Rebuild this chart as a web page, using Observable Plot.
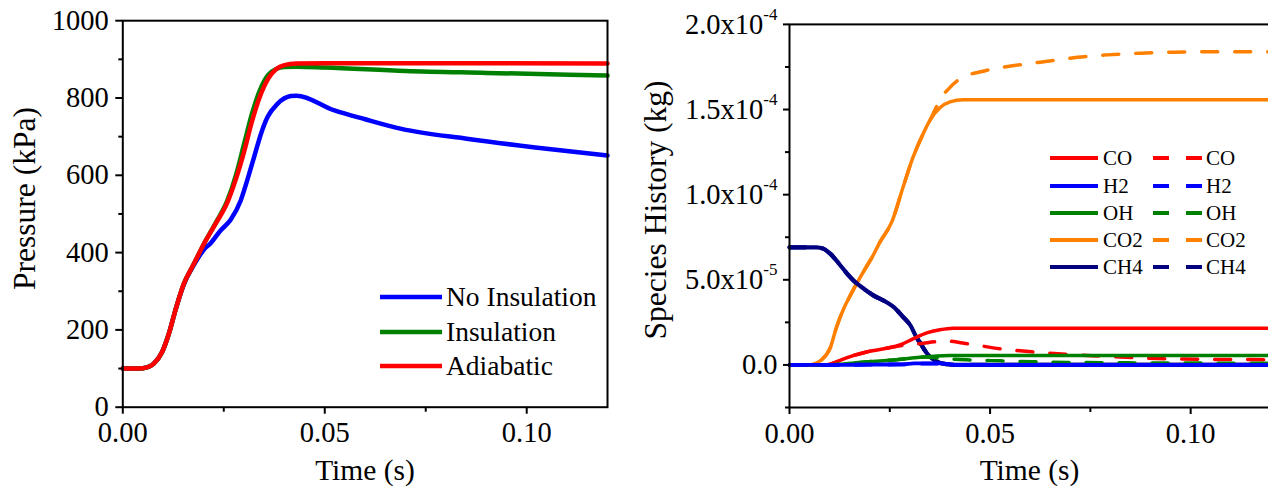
<!DOCTYPE html>
<html><head><meta charset="utf-8">
<script src="https://cdn.jsdelivr.net/npm/d3@7"></script>
<script src="https://cdn.jsdelivr.net/npm/@observablehq/plot@0.6"></script>
<style>
html,body{margin:0;padding:0;background:#fff;overflow:hidden}
#wrap{position:relative;width:1268px;height:491px;overflow:hidden;background:#fff;font-family:Liberation Serif, serif}
#left,#right{position:absolute;top:0}
#left{left:0;width:630px}
#right{left:630px;width:645px}
#overlay{position:absolute;left:0;top:0;pointer-events:none}
#wrap text, #wrap tspan{font-family:Liberation Serif, serif !important}
</style></head><body>
<div id="wrap"><div id="left"></div><div id="right"></div><svg id="overlay" width="1268" height="491"></svg></div>
<script>
const FONT = "Liberation Serif, serif";

// ---------- Left panel: pressure (kPa) vs time (s) ----------
const tAdiabatic = [0, 0.004, 0.006, 0.0076, 0.0097, 0.0114, 0.013, 0.0151, 0.0176, 0.0201, 0.023, 0.0259, 0.028, 0.030, 0.032, 0.034, 0.036, 0.038, 0.040, 0.043, 0.05, 0.08, 0.12];
const pAdiabatic = [100, 100, 103, 112, 142, 190, 250, 319, 371, 423, 475, 530, 590, 660, 740, 805, 850, 875, 885, 889, 890, 890, 889];
const tInsulation = [0, 0.004, 0.006, 0.0076, 0.0097, 0.0114, 0.013, 0.0151, 0.0176, 0.0201, 0.023, 0.0259, 0.028, 0.030, 0.032, 0.034, 0.036, 0.038, 0.040, 0.043, 0.05, 0.07, 0.09, 0.12];
const pInsulation = [100, 100, 103, 112, 142, 190, 250, 319, 371, 423, 477, 535, 600, 680, 760, 822, 860, 875, 880, 881, 879, 870, 865, 858];
const tNoInsulation = [0, 0.004, 0.006, 0.0076, 0.0097, 0.0114, 0.013, 0.0151, 0.0176, 0.0201, 0.0218, 0.0242, 0.0267, 0.0292, 0.0308, 0.0325, 0.0342, 0.0358, 0.0383, 0.0416, 0.043, 0.0524, 0.06, 0.069, 0.0856, 0.1021, 0.12];
const pNoInsulation = [100, 100, 103, 112, 142, 190, 250, 317, 368, 408, 425, 457, 485, 535, 587, 647, 707, 750, 785, 805, 806, 768, 745, 720, 694, 672, 651];

const leftNames = ["No Insulation", "Insulation", "Adiabatic"];
const leftColors = ["#0000ff", "#008000", "#ff0000"];
const leftX = [tNoInsulation, tInsulation, tAdiabatic];
const leftY = [pNoInsulation, pInsulation, pAdiabatic];

const leftXTicks = [0, 0.05, 0.10];
const leftXTickLabels = ["0.00", "0.05", "0.10"];
const leftXMinor = [0.025, 0.075];
const leftYTicks = [0, 200, 400, 600, 800, 1000];
const leftYTickLabels = ["0", "200", "400", "600", "800", "1000"];
const leftYMinor = [100, 300, 500, 700, 900];

// ---------- Right panel: species history (units of 1e-5 kg) vs time (s) ----------
const UNIT = 1e-5;
const tCO2 = [0, 0.005, 0.0061, 0.008, 0.0102, 0.0117, 0.0135, 0.0152, 0.0168, 0.019, 0.021, 0.0225, 0.0255, 0.0283, 0.0308, 0.0333, 0.035, 0.0375, 0.040, 0.0433, 0.12];
const vCO2 = [0, 0, 0.06, 0.3, 1.03, 2.2, 3.3, 4.1, 4.8, 5.7, 6.5, 7.2, 8.4, 10.44, 12.2, 13.57, 14.36, 15.1, 15.45, 15.57, 15.57];
const tCO2b = [0, 0.005, 0.0061, 0.008, 0.0102, 0.0117, 0.0135, 0.0152, 0.0168, 0.019, 0.021, 0.0225, 0.0255, 0.0283, 0.0308, 0.0333, 0.035, 0.0363, 0.0378, 0.0396, 0.0425, 0.049, 0.0575, 0.0658, 0.0717, 0.0792, 0.0875, 0.0958, 0.104, 0.12];
const vCO2b = [0, 0, 0.06, 0.3, 1.03, 2.2, 3.3, 4.1, 4.8, 5.7, 6.5, 7.2, 8.4, 10.44, 12.2, 13.57, 14.36, 15.0, 15.7, 16.2, 16.8, 17.29, 17.63, 17.88, 18.07, 18.21, 18.31, 18.37, 18.39, 18.4];
const tCO = [0, 0.0092, 0.0105, 0.0142, 0.0192, 0.0242, 0.0275, 0.0308, 0.0342, 0.0375, 0.0408, 0.045, 0.12];
const vCO = [0, 0, 0.07, 0.42, 0.76, 0.98, 1.17, 1.53, 1.88, 2.07, 2.16, 2.16, 2.16];
const tCOb = [0, 0.0092, 0.0105, 0.0142, 0.0192, 0.0242, 0.0275, 0.030, 0.0325, 0.0367, 0.0392, 0.0442, 0.0525, 0.0608, 0.0692, 0.0775, 0.0875, 0.104, 0.12];
const vCOb = [0, 0, 0.07, 0.42, 0.76, 0.98, 1.12, 1.2, 1.25, 1.37, 1.4, 1.25, 0.95, 0.76, 0.62, 0.52, 0.41, 0.33, 0.31];
const tOH = [0, 0.009, 0.0175, 0.0267, 0.0325, 0.0367, 0.040, 0.12];
const vOH = [0, 0, 0.15, 0.31, 0.45, 0.53, 0.55, 0.55];
const tOHb = [0, 0.009, 0.0175, 0.0267, 0.0325, 0.034, 0.037, 0.0442, 0.0525, 0.0608, 0.0692, 0.0792, 0.10, 0.12];
const vOHb = [0, 0, 0.15, 0.31, 0.45, 0.47, 0.4, 0.3, 0.24, 0.19, 0.15, 0.13, 0.11, 0.1];
const tH2 = [0, 0.012, 0.02, 0.0283, 0.031, 0.0375, 0.040, 0.042, 0.12];
const vH2 = [0, 0, 0.02, 0.03, 0.09, 0.09, 0.03, 0, 0];
const tH2b = [0, 0.012, 0.02, 0.0283, 0.031, 0.0375, 0.040, 0.042, 0.12];
const vH2b = [0, 0, 0.02, 0.03, 0.08, 0.08, 0.03, 0, 0];
const tCH4 = [0, 0.0067, 0.0085, 0.0102, 0.0125, 0.0144, 0.016, 0.0177, 0.0208, 0.0242, 0.026, 0.028, 0.0302, 0.0317, 0.0327, 0.0342, 0.0355, 0.0375, 0.0393, 0.042, 0.12];
const vCH4 = [6.91, 6.91, 6.82, 6.52, 5.9, 5.35, 4.95, 4.62, 4.1, 3.68, 3.39, 2.9, 2.3, 1.6, 1.25, 0.7, 0.38, 0.12, 0.04, 0, 0];
const tCH4b = tCH4.slice();
const vCH4b = vCH4.slice();

const speciesNames = ["CO", "H2", "OH", "CO2", "CH4"];
const speciesColors = ["#ff0000", "#0000ff", "#008000", "#ff8000", "#000080"];

const rightXTicks = [0, 0.05, 0.10];
const rightXTickLabels = ["0.00", "0.05", "0.10"];
const rightXMinor = [0.025, 0.075];
const rightYTicks = [0, 5e-5, 1e-4, 1.5e-4, 2e-4];
const rightYTickLabels = ["0.0", "5.0x10^-5", "1.0x10^-4", "1.5x10^-4", "2.0x10^-4"];
const rightYMinor = [-2.5e-5, 2.5e-5, 7.5e-5, 1.25e-4, 1.75e-4];

// ---------- helpers ----------
const zip = (ts, vs, k = 1) => ts.map((t, i) => ({t, v: vs[i] * k}));
const lookup = (vals, labels) => d => { const i = vals.findIndex(v => Math.abs(v - d) < 1e-12); return i < 0 ? "" : labels[i]; };
const txt = {fontFamily: FONT, fontSize: 28.5};

// ---------- Left plot ----------
const leftLines = leftNames.map((n, i) => Plot.line(zip(leftX[i], leftY[i]), {
  x: "t", y: "v", stroke: leftColors[i], strokeWidth: 4.5, curve: "monotone-x"
}));

const leftPlot = Plot.plot({
  width: 630, height: 491,
  marginLeft: 122.3, marginRight: 23, marginTop: 20.2, marginBottom: 84.3,
  x: {domain: [0, 0.12]},
  y: {domain: [0, 1000]},
  style: {fontFamily: FONT, fontSize: "28.5px", color: "black", background: "white", maxWidth: "none", overflow: "visible"},
  marks: [
    ...leftLines,
    Plot.frame({stroke: "black", strokeWidth: 2}),
    Plot.axisX({ticks: leftXTicks, tickFormat: lookup(leftXTicks, leftXTickLabels), tickSize: 7, tickPadding: 8, strokeWidth: 2, ...txt, label: null}),
    Plot.axisX({ticks: leftXMinor, tickFormat: () => "", tickSize: 5, strokeWidth: 2, label: null}),
    Plot.axisY({ticks: leftYTicks, tickFormat: lookup(leftYTicks, leftYTickLabels), tickSize: 7, tickPadding: 7, strokeWidth: 2, ...txt, label: null}),
    Plot.axisY({ticks: leftYMinor, tickFormat: () => "", tickSize: 4, strokeWidth: 2, label: null})
  ]
});
document.getElementById("left").append(leftPlot);

// ---------- Right plot ----------
const rightSeries = [
  {t: tCO2, v: vCO2, c: 3, dash: null, w: 3.5},
  {t: tCO2b, v: vCO2b, c: 3, dash: "16,17", w: 3.5},
  {t: tCH4b, v: vCH4b, c: 4, dash: "16,17", w: 4.2},
  {t: tCH4, v: vCH4, c: 4, dash: null, w: 4.2},
  {t: tCO, v: vCO, c: 0, dash: null, w: 3.5},
  {t: tCOb, v: vCOb, c: 0, dash: "16,17", w: 3.5},
  {t: tOH, v: vOH, c: 2, dash: null, w: 3.5},
  {t: tOHb, v: vOHb, c: 2, dash: "16,17", w: 3.5},
  {t: tH2b, v: vH2b, c: 1, dash: "16,17", w: 3.8},
  {t: tH2, v: vH2, c: 1, dash: null, w: 3.8}
];
const rightLines = rightSeries.map(s => Plot.line(zip(s.t, s.v, UNIT), {
  x: "t", y: "v", stroke: speciesColors[s.c], strokeWidth: s.w,
  strokeDasharray: s.dash || undefined, curve: "monotone-x"
}));

const rightPlot = Plot.plot({
  width: 645, height: 491,
  marginLeft: 159, marginRight: 4.6, marginTop: 23.9, marginBottom: 84,
  x: {domain: [0, 0.12]},
  y: {domain: [-2.5e-5, 2.0e-4]},
  style: {fontFamily: FONT, fontSize: "28.5px", color: "black", background: "white", maxWidth: "none", overflow: "visible"},
  marks: [
    ...rightLines,
    Plot.frame({stroke: "black", strokeWidth: 2}),
    Plot.axisX({ticks: rightXTicks, tickFormat: lookup(rightXTicks, rightXTickLabels), tickSize: 7, tickPadding: 8, strokeWidth: 2, ...txt, label: null}),
    Plot.axisX({ticks: rightXMinor, tickFormat: () => "", tickSize: 5, strokeWidth: 2, label: null}),
    Plot.axisY({ticks: rightYTicks, tickFormat: lookup(rightYTicks, rightYTickLabels), tickSize: 6, tickPadding: 6, strokeWidth: 2, ...txt, label: null}),
    Plot.axisY({ticks: rightYMinor, tickFormat: () => "", tickSize: 4, strokeWidth: 2, label: null})
  ]
});
// superscript exponents in tick labels
const NS = "http://www.w3.org/2000/svg";
rightPlot.querySelectorAll("text").forEach(t => {
  const s = t.textContent;
  if (s.includes("^")) {
    const [base, exp] = s.split("^");
    t.textContent = "";
    const a = document.createElementNS(NS, "tspan"); a.textContent = base;
    const b = document.createElementNS(NS, "tspan"); b.textContent = exp;
    b.setAttribute("dy", "-14"); b.setAttribute("font-size", "17");
    t.append(a, b);
  }
});
document.getElementById("right").append(rightPlot);

// ---------- Titles & legends (overlay) ----------
const ov = d3.select("#overlay").attr("fill", "black");
const addText = (x, y, s, size, extra) => {
  const t = ov.append("text").attr("x", x).attr("y", y).attr("font-size", size)
    .attr("font-family", FONT).style("font-family", FONT).text(s);
  if (extra) extra(t);
  return t;
};
const titles = [
  {text: "Pressure (kPa)", x: 35, y: 198.5, rot: -90, size: 31.5},
  {text: "Time (s)", x: 365, y: 480, rot: 0, size: 29.5},
  {text: "Species History (kg)", x: 665.5, y: 210, rot: -90, size: 31.5},
  {text: "Time (s)", x: 1029.5, y: 480, rot: 0, size: 29.5}
];
titles.forEach(d => addText(0, 0, d.text, d.size, t => t.attr("transform", `translate(${d.x},${d.y}) rotate(${d.rot})`).attr("text-anchor", "middle")));

// left legend
const leftRows = [297, 332, 366];
leftNames.forEach((n, i) => {
  ov.append("line").attr("x1", 380).attr("x2", 442).attr("y1", leftRows[i]).attr("y2", leftRows[i])
    .attr("stroke", leftColors[i]).attr("stroke-width", 4.5);
  addText(446, leftRows[i] + 9.1, n, 27.5);
});
// right legend
const rightRows = [158, 186, 213, 240, 267];
speciesNames.forEach((n, i) => {
  const y = rightRows[i];
  ov.append("line").attr("x1", 1050).attr("x2", 1098).attr("y1", y).attr("y2", y)
    .attr("stroke", speciesColors[i]).attr("stroke-width", 4);
  addText(1103, y + 7, n, 21);
  ov.append("line").attr("x1", 1153).attr("x2", 1202).attr("y1", y).attr("y2", y)
    .attr("stroke", speciesColors[i]).attr("stroke-width", 4).attr("stroke-dasharray", "16,17");
  addText(1206, y + 7, n, 21);
});
</script>
</body></html>
